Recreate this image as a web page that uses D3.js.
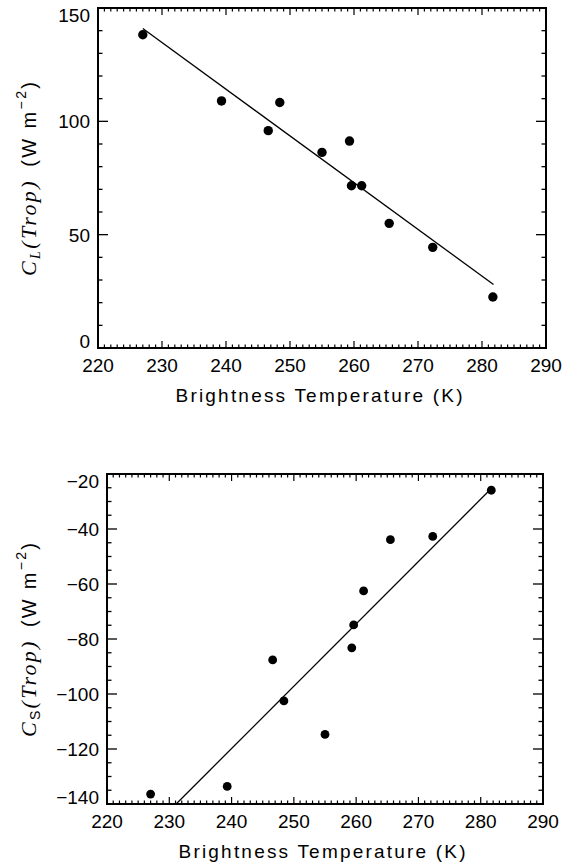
<!DOCTYPE html>
<html>
<head>
<meta charset="utf-8">
<script src="https://cdn.jsdelivr.net/npm/d3@7"></script>
<style>
  html, body { margin: 0; padding: 0; background: #fff; }
  svg { display: block; }
  text { fill: #000; }
</style>
</head>
<body>
<div id="chart"></div>
<script>
// two stacked scatter panels: longwave / shortwave cloud forcing vs brightness temperature
const xTickVals = [220, 230, 240, 250, 260, 270, 280, 290];
const topYTickVals = [0, 50, 100, 150];
const botYTickVals = [-20, -40, -60, -80, -100, -120, -140];

// brightness temperature (K) of each point, same for both panels
const temps = [227, 239.3, 246.6, 248.4, 255, 259.3, 259.6, 261.2, 265.5, 272.3, 281.7];
// C_L(Trop) (W m-2)
const clValues = [138.2, 109.0, 95.9, 108.3, 86.3, 91.3, 71.6, 71.6, 55.0, 44.4, 22.5];
// C_S(Trop) (W m-2)
const csValues = [-136.4, -133.6, -87.6, -102.5, -114.7, -83.2, -74.9, -62.5, -43.9, -42.7, -25.9];

// fitted lines, endpoints
const clFitT = [227, 281.8];
const clFitV = [141, 28];
const csFitT = [231.1, 281.3];
const csFitV = [-140, -26.2];

const W = 567, H = 866;
const svg = d3.select('#chart').append('svg').attr('width', W).attr('height', H);

const SANS = 'Liberation Sans, Arial, sans-serif';
const SERIF = 'Liberation Serif, Times New Roman, serif';

function drawPanel(cfg) {
  const x = d3.scaleLinear().domain([220, 290]).range([cfg.left, cfg.right]);
  const y = d3.scaleLinear().domain(cfg.yDomain).range([cfg.bottom, cfg.top]);
  const g = svg.append('g');

  // x ticks (top and bottom, inward)
  const xMinor = d3.range(220, 291, 1);
  xMinor.forEach(v => {
    const major = v % 10 === 0;
    const len = major ? 7 : 3.5;
    g.append('line').attr('x1', x(v)).attr('x2', x(v))
      .attr('y1', cfg.bottom).attr('y2', cfg.bottom - len)
      .attr('stroke', '#000').attr('stroke-width', 1.2);
    g.append('line').attr('x1', x(v)).attr('x2', x(v))
      .attr('y1', cfg.top).attr('y2', cfg.top + len)
      .attr('stroke', '#000').attr('stroke-width', 1.2);
  });

  // y ticks (left and right, inward)
  const [y0, y1] = cfg.yDomain;
  for (let v = y0; v <= y1 + 1e-9; v += cfg.yMinorStep) {
    const major = Math.abs(v % cfg.yMajorStep) < 1e-9;
    const len = major ? 10 : 4.5;
    g.append('line').attr('x1', cfg.left).attr('x2', cfg.left + len)
      .attr('y1', y(v)).attr('y2', y(v))
      .attr('stroke', '#000').attr('stroke-width', 1.3);
    g.append('line').attr('x1', cfg.right).attr('x2', cfg.right - len)
      .attr('y1', y(v)).attr('y2', y(v))
      .attr('stroke', '#000').attr('stroke-width', 1.3);
  }

  // frame
  g.append('rect').attr('x', cfg.left).attr('y', cfg.top)
    .attr('width', cfg.right - cfg.left).attr('height', cfg.bottom - cfg.top)
    .attr('fill', 'none').attr('stroke', '#000').attr('stroke-width', 2);

  // x tick labels
  xTickVals.forEach(v => {
    g.append('text').attr('x', x(v)).attr('y', cfg.bottom + 24)
      .attr('text-anchor', 'middle').attr('font-family', SANS).attr('font-size', 19)
      .text(v);
  });

  // y tick labels (end labels kept inside the frame height)
  const half = 7;
  cfg.yTicks.forEach(v => {
    let yy = y(v);
    yy = Math.max(cfg.top + half, Math.min(cfg.bottom - half, yy));
    g.append('text').attr('x', cfg.left - 8).attr('y', yy + half)
      .attr('text-anchor', 'end').attr('font-family', SANS).attr('font-size', 19)
      .text(v < 0 ? '\u2212' + Math.abs(v) : v);
  });

  // fit line
  const line = d3.line().x(d => x(d[0])).y(d => y(d[1]));
  g.append('path').datum(cfg.fitT.map((t, i) => [t, cfg.fitV[i]]))
    .attr('d', line).attr('fill', 'none').attr('stroke', '#000').attr('stroke-width', 1.3);

  // points
  g.selectAll('circle.pt').data(temps.map((t, i) => [t, cfg.values[i]]))
    .enter().append('circle').attr('class', 'pt')
    .attr('cx', d => x(d[0])).attr('cy', d => y(d[1]))
    .attr('r', cfg.r).attr('fill', '#000');

  // x axis title
  g.append('text').attr('x', (cfg.left + cfg.right) / 2 - 3).attr('y', cfg.bottom + 54)
    .attr('text-anchor', 'middle').attr('font-family', SANS).attr('font-size', 19)
    .attr('textLength', 287).attr('lengthAdjust', 'spacing')
    .text('Brightness Temperature (K)');

  // y axis title (rotated)
  const cy = (cfg.top + cfg.bottom) / 2 + 1;
  const t = g.append('text')
    .attr('transform', `translate(${cfg.titleX},${cy}) rotate(-90)`)
    .attr('text-anchor', 'middle').attr('font-size', 22)
    .attr('textLength', 194).attr('lengthAdjust', 'spacing');
  t.append('tspan').attr('font-family', SERIF).attr('font-style', 'italic').text('C');
  t.append('tspan').attr('font-family', cfg.subItalic ? SERIF : SANS)
    .attr('font-style', cfg.subItalic ? 'italic' : 'normal')
    .attr('font-size', 14).attr('dy', 4).text(cfg.sub);
  t.append('tspan').attr('font-family', SERIF).attr('font-style', 'italic').attr('dy', -4).text('(Trop)');
  t.append('tspan').attr('font-family', SANS).attr('font-size', 20).text('\u2002(W m');
  t.append('tspan').attr('font-family', SANS).attr('font-size', 14).attr('dy', -10).text('\u22122');
  t.append('tspan').attr('font-family', SANS).attr('font-size', 20).attr('dy', 10).text(')');
}

drawPanel({
  left: 98, right: 546, top: 8, bottom: 348,
  yDomain: [0, 150], yMajorStep: 50, yMinorStep: 10, yTicks: topYTickVals,
  values: clValues, fitT: clFitT, fitV: clFitV, r: 4.7,
  titleX: 36, sub: 'L', subItalic: true
});

drawPanel({
  left: 107, right: 543, top: 474, bottom: 804,
  yDomain: [-140, -20], yMajorStep: 20, yMinorStep: 5, yTicks: botYTickVals,
  values: csValues, fitT: csFitT, fitV: csFitV, r: 4.4,
  titleX: 36, sub: 'S', subItalic: false
});
</script>
</body>
</html>
